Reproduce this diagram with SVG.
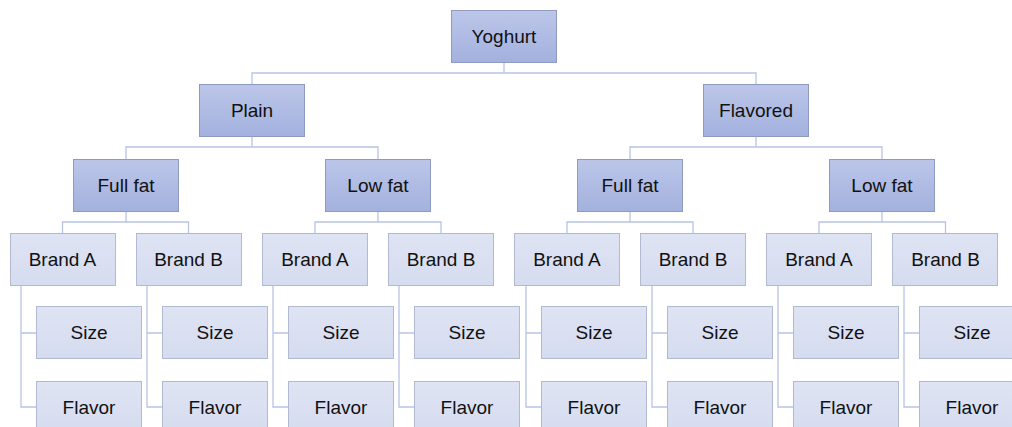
<svg xmlns="http://www.w3.org/2000/svg" width="1012" height="427" viewBox="0 0 1012 427">
<defs>
<linearGradient id="gDark" x1="0" y1="0" x2="0" y2="1">
<stop offset="0" stop-color="#BCC6E9"/>
<stop offset="1" stop-color="#A3B1DE"/>
</linearGradient>
<linearGradient id="gLight" x1="0" y1="0" x2="0" y2="1">
<stop offset="0" stop-color="#DFE4F4"/>
<stop offset="1" stop-color="#D5DCEF"/>
</linearGradient>
<style>
.d rect{fill:url(#gDark);stroke:#8E9AC0;stroke-width:1}
.l rect{fill:url(#gLight);stroke:#B2BAD2;stroke-width:1}
text{font-family:"Liberation Sans",Arial,sans-serif;font-size:19px;fill:#111;text-anchor:middle}
#connectors path{fill:none;stroke:#B7C4E8;stroke-width:1.3}
</style>
</defs>
<rect width="1012" height="427" fill="#fff"/>
<g id="connectors">
<path d="M504 62V73M252 84V73H756V84"/>
<path d="M252 137V147M126 159V147H378V159"/>
<path d="M756 137V147M630 159V147H882V159"/>
<path d="M126 211V222M62.5 233V222H188.5V233"/>
<path d="M378 211V222M315 233V222H441V233"/>
<path d="M630 211V222M567 233V222H693V233"/>
<path d="M882 211V222M819 233V222H945.5V233"/>
<path d="M21 285V407H36M21 333H36"/>
<path d="M147 285V407H162M147 333H162"/>
<path d="M273 285V407H288M273 333H288"/>
<path d="M399 285V407H414M399 333H414"/>
<path d="M526 285V407H541M526 333H541"/>
<path d="M652 285V407H667M652 333H667"/>
<path d="M778 285V407H793M778 333H793"/>
<path d="M904 285V407H919M904 333H919"/>
</g>
<g id="yoghurt" class="d"><rect x="451.5" y="10.5" width="105" height="52"/><text x="504" y="43">Yoghurt</text></g>
<g id="plain" class="d"><rect x="199.5" y="84.5" width="105" height="52"/><text x="252" y="117">Plain</text></g>
<g id="flavored" class="d"><rect x="703.5" y="84.5" width="105" height="52"/><text x="756" y="117">Flavored</text></g>
<g id="plain-fullfat" class="d"><rect x="73.5" y="159.5" width="105" height="52"/><text x="126" y="192">Full fat</text></g>
<g id="plain-lowfat" class="d"><rect x="325.5" y="159.5" width="105" height="52"/><text x="378" y="192">Low fat</text></g>
<g id="flavored-fullfat" class="d"><rect x="577.5" y="159.5" width="105" height="52"/><text x="630" y="192">Full fat</text></g>
<g id="flavored-lowfat" class="d"><rect x="829.5" y="159.5" width="105" height="52"/><text x="882" y="192">Low fat</text></g>
<g id="b1" class="l"><rect x="10.5" y="233.5" width="105" height="52"/><text x="62.5" y="266">Brand A</text></g>
<g id="b2" class="l"><rect x="136.5" y="233.5" width="105" height="52"/><text x="188.5" y="266">Brand B</text></g>
<g id="b3" class="l"><rect x="262.5" y="233.5" width="105" height="52"/><text x="315" y="266">Brand A</text></g>
<g id="b4" class="l"><rect x="388.5" y="233.5" width="105" height="52"/><text x="441" y="266">Brand B</text></g>
<g id="b5" class="l"><rect x="514.5" y="233.5" width="105" height="52"/><text x="567" y="266">Brand A</text></g>
<g id="b6" class="l"><rect x="640.5" y="233.5" width="105" height="52"/><text x="693" y="266">Brand B</text></g>
<g id="b7" class="l"><rect x="766.5" y="233.5" width="105" height="52"/><text x="819" y="266">Brand A</text></g>
<g id="b8" class="l"><rect x="892.5" y="233.5" width="105" height="52"/><text x="945.5" y="266">Brand B</text></g>
<g id="s1" class="l"><rect x="36.5" y="306.5" width="105" height="52"/><text x="89" y="339">Size</text></g>
<g id="s2" class="l"><rect x="162.5" y="306.5" width="105" height="52"/><text x="215" y="339">Size</text></g>
<g id="s3" class="l"><rect x="288.5" y="306.5" width="105" height="52"/><text x="341" y="339">Size</text></g>
<g id="s4" class="l"><rect x="414.5" y="306.5" width="105" height="52"/><text x="467" y="339">Size</text></g>
<g id="s5" class="l"><rect x="541.5" y="306.5" width="105" height="52"/><text x="594" y="339">Size</text></g>
<g id="s6" class="l"><rect x="667.5" y="306.5" width="105" height="52"/><text x="720" y="339">Size</text></g>
<g id="s7" class="l"><rect x="793.5" y="306.5" width="105" height="52"/><text x="846" y="339">Size</text></g>
<g id="s8" class="l"><rect x="919.5" y="306.5" width="105" height="52"/><text x="972" y="339">Size</text></g>
<g id="f1" class="l"><rect x="36.5" y="381.5" width="105" height="52"/><text x="89" y="414">Flavor</text></g>
<g id="f2" class="l"><rect x="162.5" y="381.5" width="105" height="52"/><text x="215" y="414">Flavor</text></g>
<g id="f3" class="l"><rect x="288.5" y="381.5" width="105" height="52"/><text x="341" y="414">Flavor</text></g>
<g id="f4" class="l"><rect x="414.5" y="381.5" width="105" height="52"/><text x="467" y="414">Flavor</text></g>
<g id="f5" class="l"><rect x="541.5" y="381.5" width="105" height="52"/><text x="594" y="414">Flavor</text></g>
<g id="f6" class="l"><rect x="667.5" y="381.5" width="105" height="52"/><text x="720" y="414">Flavor</text></g>
<g id="f7" class="l"><rect x="793.5" y="381.5" width="105" height="52"/><text x="846" y="414">Flavor</text></g>
<g id="f8" class="l"><rect x="919.5" y="381.5" width="105" height="52"/><text x="972" y="414">Flavor</text></g>
</svg>
